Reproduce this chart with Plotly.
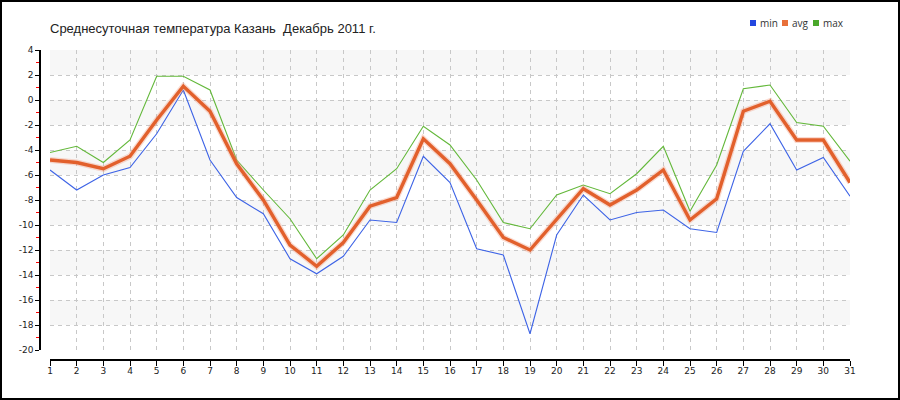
import plotly.graph_objects as go

days = list(range(1, 32))
t_min = [-5.6, -7.2, -6.0, -5.4, -2.7, 0.8, -4.8, -7.8, -9.1, -12.7, -13.9, -12.5, -9.6, -9.8, -4.5, -6.6,
         -11.9, -12.4, -18.7, -10.8, -7.6, -9.6, -9.0, -8.8, -10.3, -10.6, -4.1, -1.9, -5.6, -4.6, -7.7]
t_avg = [-4.8, -5.0, -5.5, -4.5, -1.6, 1.1, -0.9, -5.1, -8.0, -11.6, -13.3, -11.4, -8.5, -7.8, -3.1, -5.1,
         -8.0, -11.0, -12.0, -9.6, -7.1, -8.4, -7.2, -5.6, -9.6, -7.9, -0.9, -0.1, -3.2, -3.2, -6.6]
t_max = [-4.2, -3.7, -5.0, -3.2, 1.9, 1.9, 0.8, -4.8, -7.2, -9.5, -12.7, -10.8, -7.2, -5.5, -2.1, -3.6,
         -6.4, -9.8, -10.3, -7.6, -6.8, -7.5, -5.9, -3.7, -8.9, -5.2, 0.9, 1.2, -1.8, -2.1, -4.9]
y_ticks = list(range(-20, 5, 2))
band_tops = [4, 0, -4, -8, -12, -16]
series_names = ["min", "avg", "max"]
series_colors = ["#3d63e6", "#e2602c", "#63b83a"]
legend_colors = ["#2347e0", "#e8703a", "#4aa82a"]
title_text = "Среднесуточная температура Казань\u00a0 Декабрь 2011 г."

W, H = 900, 400
ML, MR, MT, MB = 40, 50, 50, 40
PW, PH = W - ML - MR, H - MT - MB


def px(x):
    return (x - ML) / PW


def py(y):
    return (H - MB - y) / PH


fig = go.Figure()
fig.add_trace(go.Scatter(x=days, y=t_min, mode="lines", name="min", showlegend=False,
                         line=dict(color=series_colors[0], width=1.1)))
fig.add_trace(go.Scatter(x=days, y=t_max, mode="lines", name="max", showlegend=False,
                         line=dict(color=series_colors[2], width=1.1)))
fig.add_trace(go.Scatter(x=days, y=t_avg, mode="lines", name="avg shadow", showlegend=False,
                         hoverinfo="skip", line=dict(color="rgba(240,150,120,0.35)", width=6)))
fig.add_trace(go.Scatter(x=days, y=t_avg, mode="lines", name="avg", showlegend=False,
                         line=dict(color=series_colors[1], width=3.4)))

shapes = []
# alternating background bands
for top in band_tops:
    shapes.append(dict(type="rect", xref="x domain", yref="y", x0=0, x1=1, y0=top - 2, y1=top,
                       fillcolor="#f7f7f7", line=dict(width=0), layer="below"))

# figure border
shapes.append(dict(type="rect", xref="paper", yref="paper",
                   x0=px(1), x1=px(899), y0=py(399), y1=py(1),
                   line=dict(color="black", width=2), fillcolor="rgba(0,0,0,0)"))

annotations = []
legend_x = [750, 782, 813]
for name, col, lx in zip(series_names, legend_colors, legend_x):
    shapes.append(dict(type="rect", xref="paper", yref="paper",
                       x0=px(lx), x1=px(lx + 6), y0=py(26), y1=py(20),
                       fillcolor=col, line=dict(width=0)))
    annotations.append(dict(xref="paper", yref="paper", x=px(lx + 8), y=py(22.5),
                            xanchor="left", yanchor="middle", text=name, showarrow=False,
                            font=dict(family="Open Sans", size=10, color="#333")))

fig.update_layout(
    width=W, height=H,
    margin=dict(l=ML, r=MR, t=MT, b=MB, pad=0),
    paper_bgcolor="white", plot_bgcolor="white",
    showlegend=False,
    title=dict(text=title_text, xref="container", yref="container",
               x=50 / W, xanchor="left", y=1 - 28.5 / H, yanchor="middle",
               font=dict(family="Liberation Sans, Arial", size=13, color="#222")),
    shapes=shapes,
    annotations=annotations,
    xaxis=dict(domain=[10 / PW, 1], range=[1, 31], anchor="free", position=0,
               tickmode="array", tickvals=days, ticktext=[str(d) for d in days],
               showgrid=True, gridcolor="#c8c8c8", griddash="4px,4px", gridwidth=1,
               showline=True, linecolor="black", linewidth=1.5,
               ticks="outside", ticklen=5, tickcolor="black", tickwidth=1,
               tickfont=dict(family="DejaVu Sans", size=9, color="#222"),
               zeroline=False, fixedrange=True, ticklabelstandoff=-3),
    yaxis=dict(domain=[10 / PH, 1], range=[-20, 4], anchor="free", position=0,
               tickmode="array", tickvals=y_ticks, ticktext=[str(v) for v in y_ticks],
               showgrid=True, gridcolor="#c8c8c8", griddash="4px,4px", gridwidth=1,
               showline=True, linecolor="black", linewidth=1.5,
               ticks="outside", ticklen=4, tickcolor="black", tickwidth=1,
               tickfont=dict(family="DejaVu Sans", size=9, color="#222"),
               minor=dict(dtick=1, tick0=0, ticks="outside", ticklen=3, tickcolor="red",
                          tickwidth=1, showgrid=False),
               zeroline=False, fixedrange=True),
)

fig.write_html("out.html", config={"displayModeBar": False},
               post_script="document.body.style.margin='0';")
